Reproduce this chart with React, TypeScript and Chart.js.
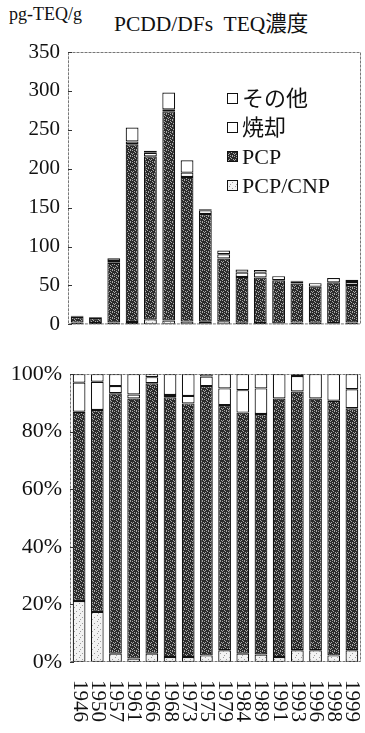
import React, { useEffect, useRef } from "react";
import { Chart, registerables } from "chart.js";

Chart.register(...registerables);

// ---- data ----
const years = ["1946", "1950", "1957", "1961", "1966", "1968", "1973", "1975", "1979", "1984", "1989", "1991", "1993", "1996", "1998", "1999"];
const seriesNames = ["PCP/CNP", "PCP", "焼却", "その他"];

// TEQ concentration (pg-TEQ/g) per source
const teqPcpCnp = [2.3, 1.7, 2.5, 3.0, 6.5, 5.1, 3.6, 3.4, 3.9, 2.0, 1.8, 1.1, 2.3, 2.2, 1.4, 2.4];
const teqPcp = [7.2, 6.6, 76.8, 228.5, 209.4, 268.8, 185.9, 138.4, 80.8, 59.0, 58.5, 55.7, 50.3, 46.3, 52.6, 48.3];
const teqIncin = [1.1, 0.9, 2.1, 3.5, 4.7, 2.4, 5.5, 4.9, 5.5, 5.5, 6.2, 0, 3.0, 0, 0, 3.8];
const teqOther = [0.4, 0.3, 3.6, 18.0, 2.4, 21.7, 16.0, 1.3, 4.8, 4.0, 3.5, 5.2, 0.4, 4.5, 5.5, 3.0];

// share (%) per source
const pctPcpCnp = [21.2, 17.4, 2.9, 1.2, 2.9, 1.7, 1.7, 2.3, 4.1, 2.9, 2.6, 1.7, 4.1, 4.1, 2.3, 4.1];
const pctPcp = [65.7, 70.1, 90.4, 90.3, 93.9, 90.2, 88.1, 93.5, 85.1, 83.7, 83.5, 89.8, 89.8, 87.4, 88.4, 84.0];
const pctIncin = [10.1, 9.8, 2.5, 1.4, 2.1, 0.8, 2.6, 3.3, 5.8, 7.8, 8.9, 0, 5.4, 0, 0, 6.6];
const pctOther = [3.0, 2.7, 4.2, 7.1, 1.1, 7.3, 7.6, 0.9, 5.0, 5.6, 5.0, 8.5, 0.7, 8.5, 9.3, 5.3];

const teqMax = 350;
const teqStep = 50;
const pctMax = 100;
const pctStep = 20;

const FONT_FAMILY = '"Liberation Serif", "Noto Sans CJK JP", serif';

function makePattern(base: string, dot: string, dots: number[][], size: number) {
  const c = document.createElement("canvas");
  c.width = size;
  c.height = size;
  const g = c.getContext("2d")!;
  g.fillStyle = base;
  g.fillRect(0, 0, size, size);
  g.fillStyle = dot;
  for (const [x, y] of dots) g.fillRect(x, y, 1, 1);
  return g.createPattern(c, "repeat")!;
}

function getFills() {
  const dark = makePattern("#2b2b2b", "#a8a8a8", [[0, 0], [2, 1], [4, 0], [1, 3], [3, 2], [5, 3], [0, 4], [4, 5], [2, 5]], 6);
  const light = makePattern("#f2f2f2", "#9c9c9c", [[1, 0], [4, 2], [2, 4]], 6);
  return [light, dark, "#ffffff", "#ffffff"];
}

const framePlugin = {
  id: "frame",
  afterDatasetsDraw(chart: any) {
    const { ctx, chartArea } = chart;
    const { left, right, top, bottom } = chartArea;
    ctx.save();
    ctx.strokeStyle = "#777";
    ctx.lineWidth = 1;
    ctx.setLineDash([3, 1]);
    ctx.strokeRect(left + 0.5, top + 0.5, right - left - 1, bottom - top - 1);
    ctx.setLineDash([]);
    ctx.strokeStyle = "#333";
    const ys = chart.scales.y;
    ys.ticks.forEach((t: any) => {
      const py = Math.round(ys.getPixelForValue(t.value)) + 0.5;
      ctx.beginPath();
      ctx.moveTo(left, py);
      ctx.lineTo(left + 4, py);
      ctx.stroke();
    });
    ctx.restore();
  },
};

const legendPlugin = {
  id: "innerLegend",
  afterDraw(chart: any) {
    const { ctx } = chart;
    const ds = chart.data.datasets;
    ctx.save();
    ctx.font = `22px ${FONT_FAMILY}`;
    ctx.textBaseline = "middle";
    ctx.textAlign = "left";
    const startY = 99;
    const gap = 29;
    for (let i = ds.length - 1, k = 0; i >= 0; i--, k++) {
      const y = startY + k * gap;
      ctx.fillStyle = ds[i].backgroundColor;
      ctx.fillRect(227, y - 6, 11, 11);
      ctx.strokeStyle = "#111";
      ctx.lineWidth = 1;
      ctx.strokeRect(227.5, y - 5.5, 10, 10);
      ctx.fillStyle = "#111";
      ctx.fillText(ds[i].label, 242, y + 1);
    }
    ctx.restore();
  },
};

const yearLabelPlugin = {
  id: "yearLabels",
  afterDraw(chart: any) {
    const { ctx, chartArea } = chart;
    const xs = chart.scales.x;
    ctx.save();
    ctx.font = `21px ${FONT_FAMILY}`;
    ctx.fillStyle = "#111";
    ctx.textAlign = "left";
    ctx.textBaseline = "middle";
    chart.data.labels.forEach((lab: string, i: number) => {
      const px = xs.getPixelForValue(i);
      ctx.save();
      ctx.translate(px, chartArea.bottom + 18);
      ctx.rotate(Math.PI / 2);
      ctx.fillText(lab, 0, 0);
      ctx.restore();
    });
    ctx.restore();
  },
};

function buildDatasets(values: number[][]) {
  const fills = getFills();
  return values.map((v, i) => ({
    label: seriesNames[i],
    data: v,
    backgroundColor: fills[i],
    borderColor: "#111",
    borderWidth: 1.2,
    borderSkipped: false,
    barPercentage: 0.7,
    categoryPercentage: 1,
  }));
}

function baseOptions(yMax: number, yStep: number, yWidth: number, padding: any, fontSize: number, fmt: (v: number) => string) {
  return {
    responsive: false,
    animation: false,
    layout: { padding },
    plugins: { legend: { display: false }, tooltip: { enabled: false }, title: { display: false } },
    scales: {
      x: { stacked: true, display: false },
      y: {
        stacked: true,
        min: 0,
        max: yMax,
        grid: { display: false, drawTicks: false },
        border: { display: false },
        ticks: {
          stepSize: yStep,
          padding: 8,
          color: "#111",
          font: { family: FONT_FAMILY, size: fontSize },
          callback: (v: any) => fmt(Number(v)),
        },
        afterFit: (s: any) => {
          s.width = yWidth;
        },
      },
    },
  };
}

export default function App() {
  const topRef = useRef<HTMLCanvasElement>(null);
  const botRef = useRef<HTMLCanvasElement>(null);

  useEffect(() => {
    const top = new Chart(topRef.current!, {
      type: "bar",
      data: { labels: years, datasets: buildDatasets([teqPcpCnp, teqPcp, teqIncin, teqOther]) as any },
      options: baseOptions(teqMax, teqStep, 68, { top: 52, right: 4, bottom: 10, left: 0 }, 21, (v) => String(v)) as any,
      plugins: [framePlugin, legendPlugin],
    });
    const bot = new Chart(botRef.current!, {
      type: "bar",
      data: { labels: years, datasets: buildDatasets([pctPcpCnp, pctPcp, pctIncin, pctOther]) as any },
      options: baseOptions(pctMax, pctStep, 70, { top: 29, right: 4, bottom: 71, left: 0 }, 22, (v) => v + "%") as any,
      plugins: [framePlugin, yearLabelPlugin],
    });
    return () => {
      top.destroy();
      bot.destroy();
    };
  }, []);

  return (
    <div style={{ position: "absolute", left: 0, top: 0, width: 365, height: 733, background: "#fff", overflow: "hidden" }}>
      <div style={{ position: "absolute", left: 9, top: 4, fontFamily: FONT_FAMILY, fontSize: 18, color: "#111", whiteSpace: "pre" }}>
        pg-TEQ/g
      </div>
      <div style={{ position: "absolute", left: 114, top: 6, fontFamily: FONT_FAMILY, fontSize: 21.5, color: "#111", whiteSpace: "pre" }}>
        {"PCDD/DFs  TEQ濃度"}
      </div>
      <canvas ref={topRef} width={365} height={345} style={{ position: "absolute", left: 0, top: 0 }} />
      <canvas ref={botRef} width={365} height={388} style={{ position: "absolute", left: 0, top: 345 }} />
    </div>
  );
}
